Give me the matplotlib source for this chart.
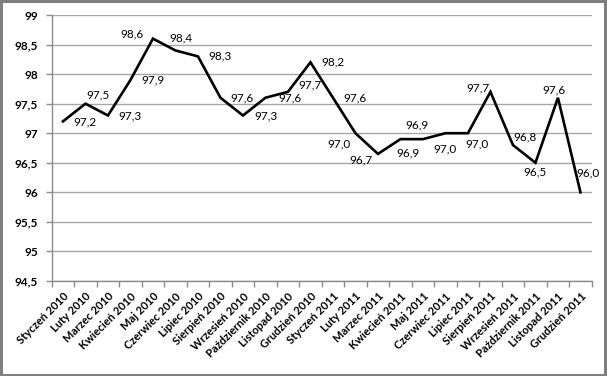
import matplotlib
matplotlib.use("Agg")
import matplotlib.pyplot as plt
from matplotlib.patches import Rectangle

plt.rcParams['font.family'] = ['Lato', 'DejaVu Sans']

months = ["Styczeń 2010", "Luty 2010", "Marzec 2010", "Kwiecień 2010", "Maj 2010",
          "Czerwiec 2010", "Lipiec 2010", "Sierpień 2010", "Wrzesień 2010",
          "Październik 2010", "Listopad 2010", "Grudzień 2010",
          "Styczeń 2011", "Luty 2011", "Marzec 2011", "Kwiecień 2011", "Maj 2011",
          "Czerwiec 2011", "Lipiec 2011", "Sierpień 2011", "Wrzesień 2011",
          "Październik 2011", "Listopad 2011", "Grudzień 2011"]
values = [97.2, 97.5, 97.3, 97.9, 98.6, 98.4, 98.3, 97.6, 97.3, 97.6, 97.7, 98.2,
          97.6, 97.0, 96.65, 96.9, 96.9, 97.0, 97.0, 97.7, 96.8, 96.5, 97.6, 96.0]
labels = ["97,2", "97,5", "97,3", "97,9", "98,6", "98,4", "98,3", "97,6", "97,3", "97,6",
          "97,7", "98,2", "97,6", "97,0", "96,7", "96,9", "96,9", "97,0", "97,0", "97,7",
          "96,8", "96,5", "97,6", "96,0"]
yticks = [94.5, 95, 95.5, 96, 96.5, 97, 97.5, 98, 98.5, 99]
ytick_labels = ["94,5", "95", "95,5", "96", "96,5", "97", "97,5", "98", "98,5", "99"]

# label offsets in pixels (dx right, dy down in image terms)
label_offsets = [(22, 1), (13, -9), (22, 0), (23, 0), (-21, -5), (5, -13), (22, 0),
                 (22, 0), (23, 0), (25, 0), (22, -7), (22, 0), (22, 0), (-16, 11),
                 (-17, 6), (8, 14), (-6, -14), (0, 16), (9, 11), (-12, -4), (12, -8),
                 (0, 9), (-4, -8), (8, -19)]

W, H = 607, 376
fig = plt.figure(figsize=(W / 100, H / 100), dpi=100)
fig.patch.set_facecolor('white')
L, R, T, B = 51.7, 591.7, 15, 281
ax = fig.add_axes([L / W, 1 - B / H, (R - L) / W, (B - T) / H])

x = list(range(len(values)))
ax.plot(x, values, color='black', lw=1.9, solid_joinstyle='miter', zorder=3)

for xi, v, lab, (dx, dy) in zip(x, values, labels, label_offsets):
    ax.annotate(lab, (xi, v), xytext=(dx, -dy), textcoords='offset pixels',
                ha='center', va='center', fontsize=8.5, color='black', zorder=4)

ax.set_xlim(-0.5, len(values) - 0.5)
ax.set_ylim(94.5, 99)
ax.set_yticks(yticks)
ax.set_yticklabels(ytick_labels, fontsize=8.5, fontweight='bold')
ax.set_xticks(x)
ax.set_xticklabels(months, rotation=45, ha='right', rotation_mode='anchor',
                   fontsize=8, fontweight='bold')
ax.set_xticks([i - 0.5 for i in range(len(values) + 1)], minor=True)
ax.tick_params(axis='x', which='major', length=0, pad=7)
ax.tick_params(axis='x', which='minor', length=4, color='#8c8c8c', width=1)
ax.tick_params(axis='y', length=4, color='#8c8c8c', width=1, pad=6)

ax.grid(axis='y', color='#a6a6a6', lw=1)
ax.set_axisbelow(True)
for s in ['top', 'right']:
    ax.spines[s].set_visible(False)
for s in ['left', 'bottom']:
    ax.spines[s].set_color('#8c8c8c')
    ax.spines[s].set_linewidth(1)

# outer border
fig.patches.append(Rectangle((0.5 / W, 1.5 / H), (W - 2.5) / W, (H - 2.5) / H,
                             transform=fig.transFigure, fill=False,
                             edgecolor='#7f7f7f', lw=2.2))

fig.savefig("out.png", dpi=100)
